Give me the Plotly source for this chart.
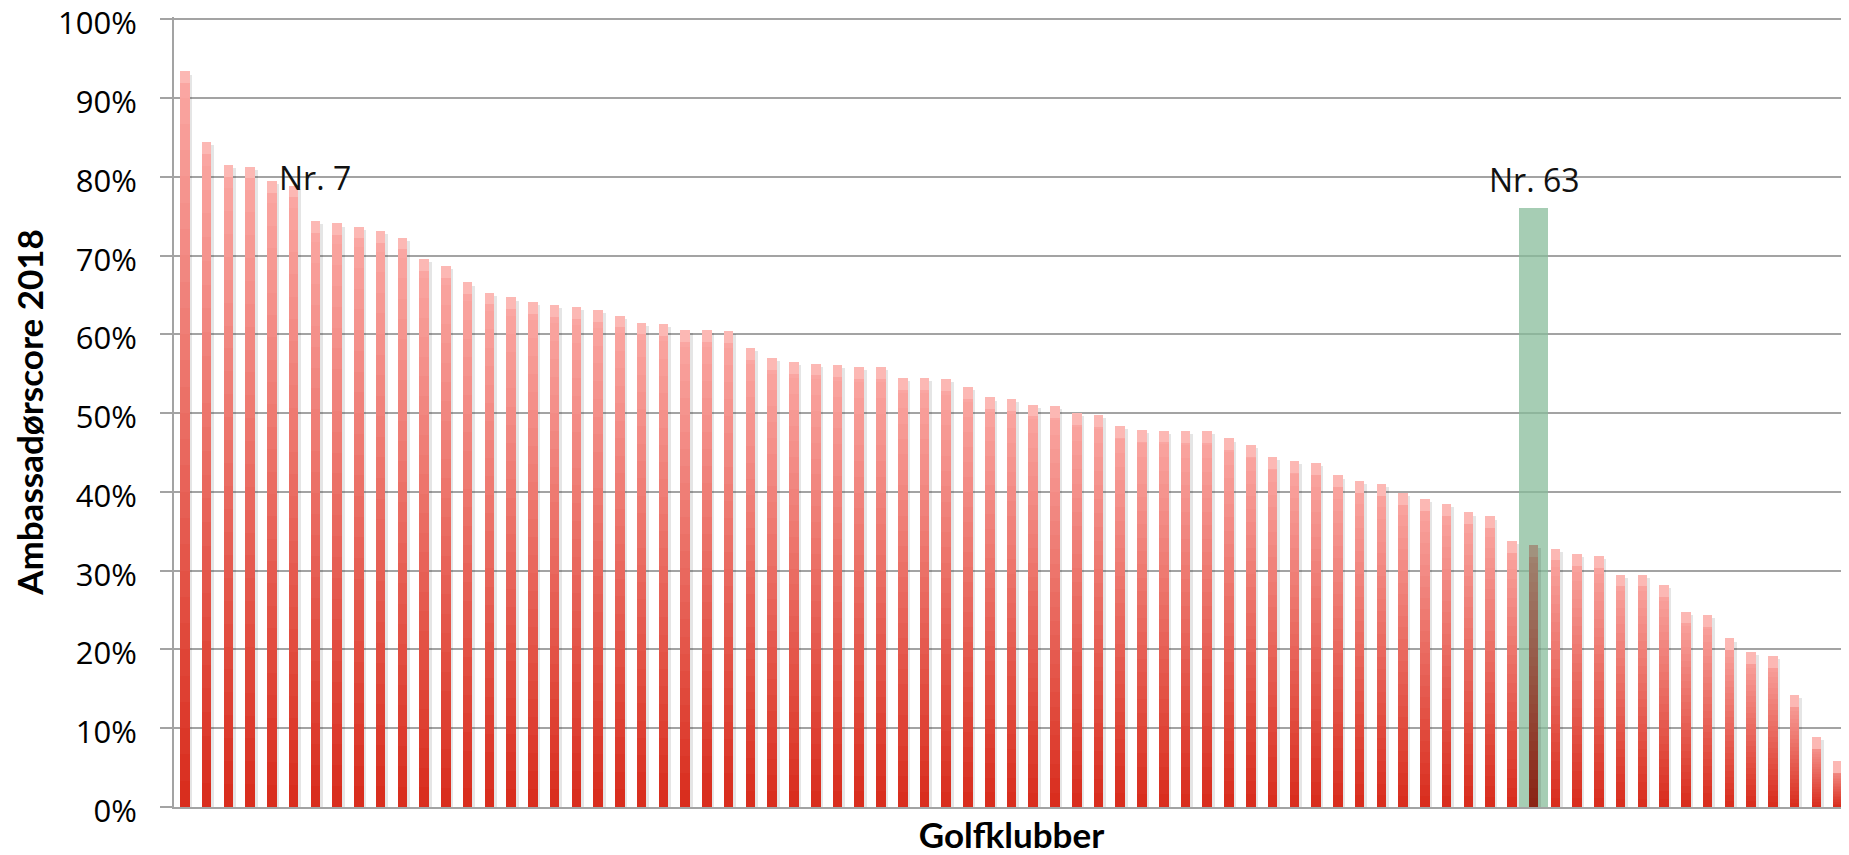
import plotly.graph_objects as go

# Rank of each golf club (1 = best)
ranks = list(range(1, 78))

# Ambassadør score 2018 (%) per club, sorted descending
scores = [
    93.4, 84.4, 81.5, 81.3, 79.5, 78.9, 74.4, 74.1, 73.7, 73.1,
    72.3, 69.6, 68.7, 66.6, 65.3, 64.7, 64.1, 63.7, 63.5, 63.1,
    62.4, 61.5, 61.3, 60.6, 60.6, 60.4, 58.3, 57.0, 56.5, 56.3,
    56.1, 55.9, 55.9, 54.5, 54.5, 54.3, 53.3, 52.0, 51.8, 51.1,
    50.9, 50.0, 49.8, 48.4, 47.9, 47.8, 47.7, 47.7, 46.8, 46.0,
    44.4, 43.9, 43.7, 42.1, 41.4, 41.0, 39.9, 39.1, 38.5, 37.4,
    36.9, 33.8, 33.3, 32.8, 32.1, 31.9, 29.5, 29.5, 28.2, 24.8,
    24.4, 21.4, 19.7, 19.2, 14.2, 8.9, 5.8,
]

# Highlight column (club Nr. 63)
highlight_rank = [63]
highlight_value = [76.1]

# Labels
label_ranks = [7, 63]
label_texts = ["Nr. 7", "Nr. 63"]
label_y = [79.9, 79.7]

tick_vals = [0, 10, 20, 30, 40, 50, 60, 70, 80, 90, 100]
tick_text = ["0%", "10%", "20%", "30%", "40%", "50%", "60%", "70%", "80%", "90%", "100%"]

# ---- styling ----
BOTTOM = (217, 46, 30)
TOP = (250, 166, 162)
GREEN = (163, 203, 178)
BAR_W = 0.44
K = 28


def lerp(a, b, t):
    return tuple(a[i] + (b[i] - a[i]) * t for i in range(3))


def rgb(c):
    return "rgb(%d,%d,%d)" % tuple(int(round(v)) for v in c)


def multiply(c, m):
    return tuple(c[i] * m[i] / 255.0 for i in range(3))


fig = go.Figure()

# green highlight column (behind)
fig.add_trace(go.Bar(
    x=highlight_rank, y=highlight_value, width=1.33,
    marker=dict(color="rgba(135,187,154,0.74)", line=dict(width=0)),
    hoverinfo="skip", showlegend=False,
))

# soft shadow
fig.add_trace(go.Bar(
    x=ranks, y=[max(v - 0.4, 0) for v in scores], width=BAR_W, offset=-BAR_W / 2 + 0.12,
    marker=dict(color="rgba(0,0,0,0.10)", line=dict(width=0)),
    hoverinfo="skip", showlegend=False,
))

# gradient bars: nested bars from the base, each shorter and darker
for k in range(K):
    frac = (K - k) / K
    t = (K - k - 1) / (K - 1)
    col = lerp(BOTTOM, TOP, t)
    colors = []
    for r in ranks:
        if r in highlight_rank:
            colors.append(rgb(multiply(col, GREEN)))
        else:
            colors.append(rgb(col))
    fig.add_trace(go.Bar(
        x=ranks, y=[v * frac for v in scores], width=BAR_W,
        marker=dict(color=colors, line=dict(width=0)),
        hoverinfo="skip" if k else None, showlegend=False,
        name="Ambassadørscore 2018",
    ))

# lighter top cap (3D effect)
cap_colors = [rgb(multiply((252, 184, 180), GREEN)) if r in highlight_rank else "rgb(252,184,180)" for r in ranks]
fig.add_trace(go.Bar(
    x=ranks, y=[1.5 for _ in scores], base=[v - 1.5 for v in scores], width=BAR_W,
    marker=dict(color=cap_colors, line=dict(width=0)),
    hoverinfo="skip", showlegend=False,
))

for xr, tx, yy in zip(label_ranks, label_texts, label_y):
    fig.add_annotation(
        x=xr, y=yy, text=tx, showarrow=False, xanchor="center", yanchor="middle",
        font=dict(family="Open Sans", size=32, color="#111111"),
    )

grid_col = "#a3a3a3"
# The page body has an 8px margin; size the figure so the plot lands where the reference has it.
fig.update_layout(
    width=1841, height=847,
    margin=dict(l=166, r=0, t=9, b=48, autoexpand=False),
    paper_bgcolor="white", plot_bgcolor="white",
    barmode="overlay", bargap=0,
    showlegend=False,
    xaxis=dict(
        range=[0.5, 77.5], showticklabels=False, ticks="", showgrid=False,
        zeroline=False, showline=True, linecolor=grid_col, linewidth=2,
        automargin=False,
        title=dict(text="Golfklubber", standoff=24,
                   font=dict(family="Lato", size=35, color="black", weight="bold")),
    ),
    yaxis=dict(
        range=[0, 100.3], tickvals=tick_vals, ticktext=tick_text,
        ticks="outside", ticklen=12, tickwidth=2, tickcolor=grid_col,
        showgrid=True, gridcolor=grid_col, gridwidth=2,
        zeroline=False, showline=True, linecolor=grid_col, linewidth=2,
        automargin=False,
        ticklabelstandoff=17, ticklabelshift=4, ticklabeloverflow="allow",
        tickfont=dict(family="Open Sans", size=31, color="black", weight=500),
        title=dict(text="Ambassadørscore 2018", standoff=36,
                   font=dict(family="Lato", size=35, color="black", weight="bold")),
    ),
)

fig.write_html("out.html")
